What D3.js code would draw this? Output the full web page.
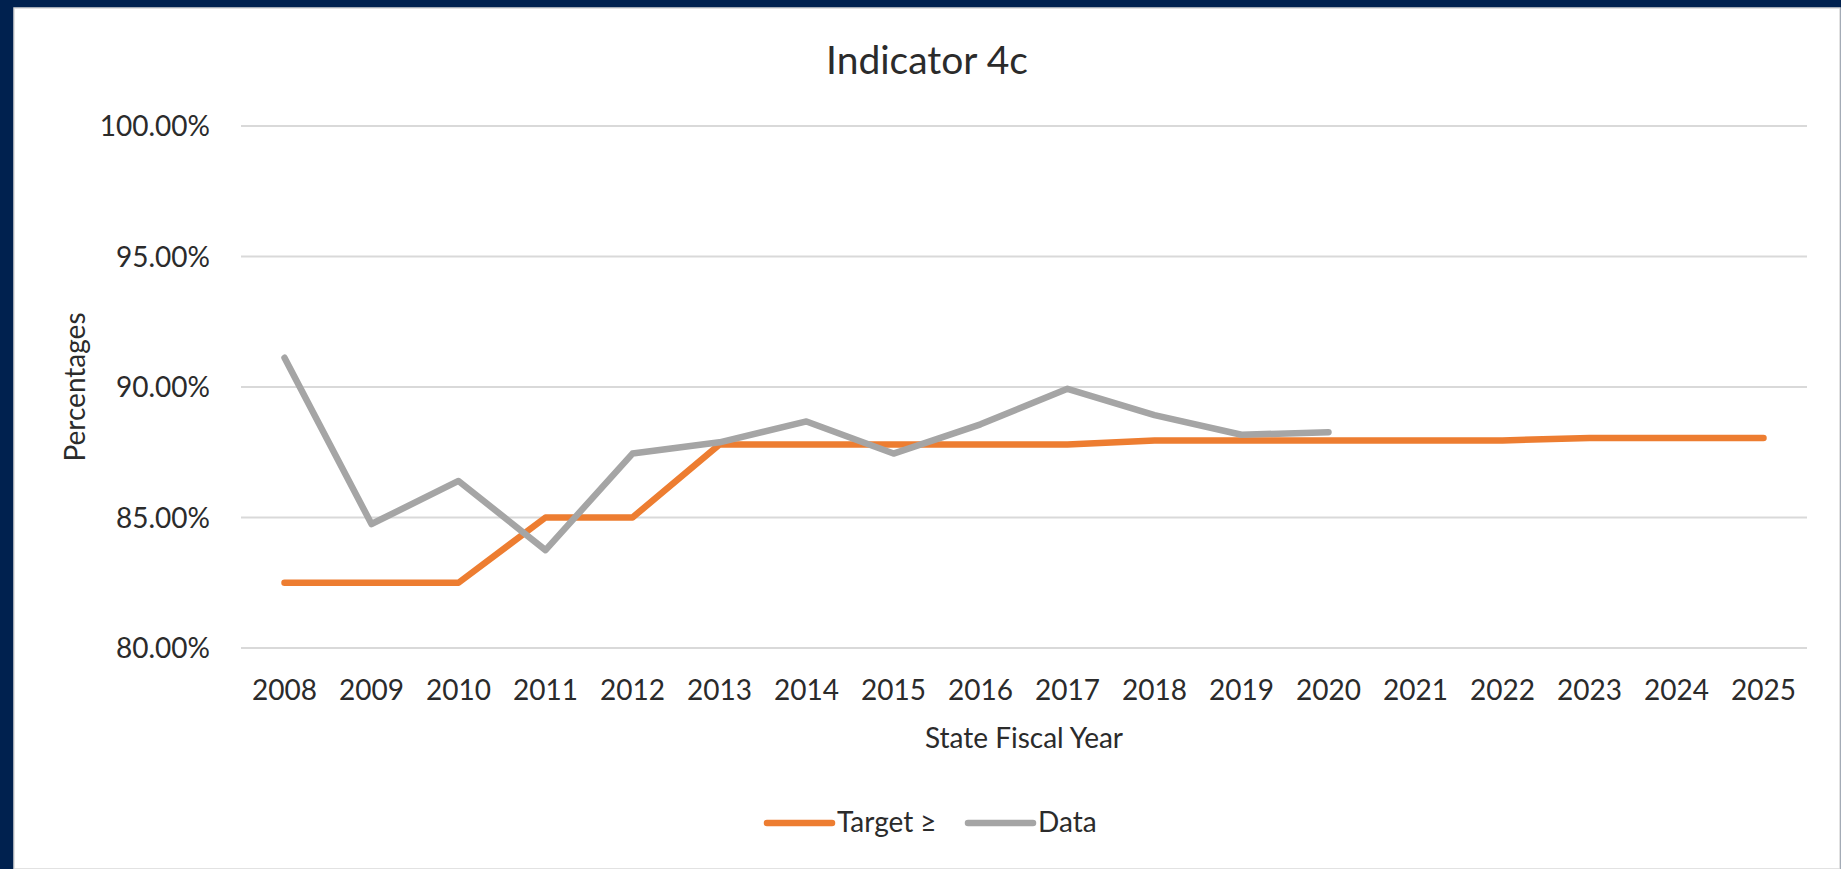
<!DOCTYPE html>
<html>
<head>
<meta charset="utf-8">
<script src="https://cdn.jsdelivr.net/npm/d3@7"></script>
<style>
  html, body { margin: 0; padding: 0; background: #00214f; }
  svg { display: block; }
  text { font-family: Lato, "Open Sans", sans-serif; fill: #2b2b2b; }
</style>
</head>
<body>
<script>
const years = ["2008","2009","2010","2011","2012","2013","2014","2015","2016",
               "2017","2018","2019","2020","2021","2022","2023","2024","2025"];
const targetValues = [82.5, 82.5, 82.5, 85, 85, 87.8, 87.8, 87.8, 87.8,
                      87.8, 87.95, 87.95, 87.95, 87.95, 87.95, 88.05, 88.05, 88.05];
// data series stops at 2020
const dataValues = [91.12, 84.75, 86.4, 83.75, 87.45, 87.88, 88.68, 87.45, 88.57,
                    89.93, 88.92, 88.17, 88.27];
const yTicks = [80, 85, 90, 95, 100];
const seriesNames = ["Target \u2265", "Data"];
const seriesColors = ["#ed7d31", "#a5a5a5"];

const width = 1841, height = 869;
const plot = { left: 241, right: 1807, top: 126, bottom: 648 };

const svg = d3.select("body").append("svg")
    .attr("width", width)
    .attr("height", height);

// chart area (white panel inside navy frame)
svg.append("rect")
    .attr("x", 14).attr("y", 8)
    .attr("width", width - 15).attr("height", height - 8)
    .attr("fill", "#fff")
    .attr("stroke", "#d9d9d9")
    .attr("stroke-width", 1.5);

const x = d3.scaleBand().domain(years).range([plot.left, plot.right]).padding(0);
const y = d3.scaleLinear().domain([80, 100]).range([plot.bottom, plot.top]);
const cx = d => x(d) + x.bandwidth() / 2;

// gridlines
svg.append("g")
    .selectAll("line")
    .data(yTicks)
    .join("line")
    .attr("x1", plot.left).attr("x2", plot.right)
    .attr("y1", d => y(d)).attr("y2", d => y(d))
    .attr("stroke", "#d9d9d9")
    .attr("stroke-width", 2);

// y tick labels
svg.append("g")
    .selectAll("text")
    .data(yTicks)
    .join("text")
    .attr("x", 210)
    .attr("y", d => y(d) + 10)
    .attr("text-anchor", "end")
    .style("font-size", "28px")
    .text(d => d3.format(".2f")(d) + "%");

// x tick labels
svg.append("g")
    .selectAll("text")
    .data(years)
    .join("text")
    .attr("x", d => cx(d))
    .attr("y", 700)
    .attr("text-anchor", "middle")
    .style("font-size", "28px")
    .text(d => d);

// titles
svg.append("text")
    .attr("x", 927).attr("y", 74)
    .attr("text-anchor", "middle")
    .style("font-size", "39px")
    .text("Indicator 4c");

svg.append("text")
    .attr("x", (plot.left + plot.right) / 2).attr("y", 748)
    .attr("text-anchor", "middle")
    .style("font-size", "28px")
    .text("State Fiscal Year");

svg.append("text")
    .attr("transform", "translate(85," + ((plot.top + plot.bottom) / 2) + ") rotate(-90)")
    .attr("text-anchor", "middle")
    .style("font-size", "28px")
    .text("Percentages");

// series lines
const line = d3.line()
    .x((d, i) => cx(years[i]))
    .y(d => y(d));

[targetValues, dataValues].forEach((vals, i) => {
  svg.append("path")
      .datum(vals)
      .attr("d", line)
      .attr("fill", "none")
      .attr("stroke", seriesColors[i])
      .attr("stroke-width", 6.5)
      .attr("stroke-linejoin", "round")
      .attr("stroke-linecap", "round");
});

// legend
const legendX = [767, 968];
const legend = svg.append("g");
seriesNames.forEach((name, i) => {
  legend.append("line")
      .attr("x1", legendX[i]).attr("x2", legendX[i] + 65)
      .attr("y1", 823).attr("y2", 823)
      .attr("stroke", seriesColors[i])
      .attr("stroke-width", 6.5)
      .attr("stroke-linecap", "round");
  legend.append("text")
      .attr("x", legendX[i] + 70)
      .attr("y", 832)
      .style("font-size", "28px")
      .text(name);
});
</script>
</body>
</html>
